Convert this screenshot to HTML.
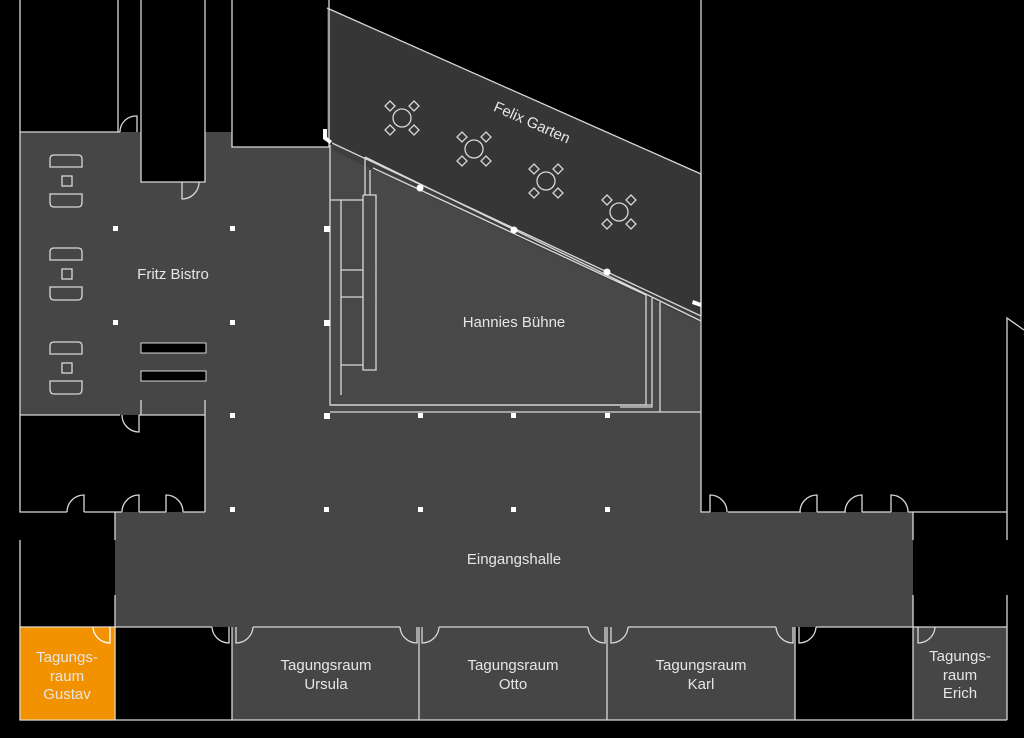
<!DOCTYPE html>
<html><head><meta charset="utf-8"><style>
html,body{margin:0;padding:0;background:#000;}
svg{display:block}
text{font-family:"Liberation Sans",sans-serif;font-size:15px;fill:#e6e6e6;text-anchor:middle}
</style></head><body>
<svg width="1024" height="738" viewBox="0 0 1024 738" xmlns="http://www.w3.org/2000/svg">
<rect width="1024" height="738" fill="#000"/>
<!-- main gray floor -->
<path d="M20 132 H141 V182 H205 V132 H232 V147 H329 V412 H701 V512 H913 V627 H115 V512 H205 V415 H20 Z" fill="#464646"/>
<!-- meeting rooms -->
<rect x="232" y="627" width="563" height="93" fill="#464646"/>
<rect x="913" y="627" width="94" height="93" fill="#464646"/>
<!-- Hannies Buhne area -->
<path d="M329 143 L701 316 V412 H329 Z" fill="#484848"/>
<!-- Felix Garten -->
<path d="M327 8 L701 174 V316 L332 143 L327 140 Z" fill="#363636"/>
<!-- band -->
<path d="M332 143 L701 316 V323 L365 166 L332 150 Z" fill="#3e3e3e"/>
<g fill="none" stroke="#d8d8d8" stroke-width="1.3">
<path d="M20 0 V132 H120 M118 132 V0 M141 0 V182 H205 V0 M232 0 V147 H329 V0"/>
<path d="M327 8 L701 174 M701 0 V316 M332 143 L701 316 M365 157 L701 321 M365 157 V168 M373 168 L646 295 V405 H330 V145"/>
<path d="M330 200 H341 V395 M341 200 H363 M341 270 H363 M341 297 H363 M341 365 H363 M363 195 V370 H376 V195 H363 M365 168 V195 M370 170 V195 M652 298 V407 H620 M330 405 H652 M660 302 V412"/>
<path d="M330 412 H701"/>
<path d="M20 132 V415 H120 M139 415 H205 V512 M141 400 V415 M205 400 V415"/>
<path d="M20 415 V512 H67 M84 512 H122 M139 512 H166 M183 512 H205"/>
<path d="M20 540 V627 M115 512 V540 M115 595 V627"/>
<path d="M701 174 V512 H710 M728 512 H801 M817 512 H846 M862 512 H891 M908 512 H1007 V540 M913 512 V540 M1007 595 V720 M1007 320 V512 L1007 318 L1024 330 M913 595 V627"/>
<path d="M20 627 H212 M253 627 H400 M439 627 H588 M628 627 H776 M816 627 H1007"/>
<path d="M20 627 V720 H1007 M115 627 V720 M232 627 V720 M419 627 V720 M607 627 V720 M795 627 V720 M913 627 V720"/>
<path d="M137 132 V116 A16 16 0 0 0 120 132"/>
<path d="M182 182 V199 A17 17 0 0 0 199 182"/>
<path d="M139 415 V432 A17 17 0 0 1 122 415"/>
<path d="M84 512 V495 A17 17 0 0 0 67 512"/>
<path d="M139 512 V495 A17 17 0 0 0 122 512"/>
<path d="M166 512 V495 A17 17 0 0 1 183 512"/>
<path d="M710 512 V495 A17 17 0 0 1 727 512"/>
<path d="M817 512 V495 A17 17 0 0 0 800 512"/>
<path d="M862 512 V495 A17 17 0 0 0 845 512"/>
<path d="M891 512 V495 A17 17 0 0 1 908 512"/>
<path d="M229 627 V643 A17 17 0 0 1 212 627"/>
<path d="M236 627 V643 A17 17 0 0 0 253 627"/>
<path d="M417 627 V643 A17 17 0 0 1 400 627"/>
<path d="M422 627 V643 A17 17 0 0 0 439 627"/>
<path d="M605 627 V643 A17 17 0 0 1 588 627"/>
<path d="M611 627 V643 A17 17 0 0 0 628 627"/>
<path d="M793 627 V643 A17 17 0 0 1 776 627"/>
<path d="M799 627 V643 A17 17 0 0 0 816 627"/>
<path d="M918 627 V643 A17 17 0 0 0 935 627"/>
<g id="b"><path d="M54 155 H78 Q82 155 82 159 V167 H50 V159 Q50 155 54 155 Z M50 194 H82 V202 Q82 207 78 207 H54 Q50 207 50 202 Z"/><rect x="62" y="176" width="10" height="10"/></g>
<use href="#b" y="93"/><use href="#b" y="187"/>
<g id="t"><circle cx="402" cy="118" r="9"/><path d="M390 101 l5 5 -5 5 -5 -5z M414 101 l5 5 -5 5 -5 -5z M390 125 l5 5 -5 5 -5 -5z M414 125 l5 5 -5 5 -5 -5z"/></g>
<use href="#t" x="72" y="31"/><use href="#t" x="144" y="63"/><use href="#t" x="217" y="94"/>
</g>
<rect x="141" y="343" width="65" height="10" fill="#000" stroke="#d8d8d8"/>
<rect x="141" y="371" width="65" height="10" fill="#000" stroke="#d8d8d8"/>
<rect x="20" y="627" width="95" height="93" fill="#f39200" stroke="#e6e6e6"/>
<path d="M110 627 V643 A17 17 0 0 1 93 627" fill="none" stroke="#fff" stroke-width="1.3"/>
<g fill="#fff">
<rect x="113" y="226" width="5" height="5"/><rect x="230" y="226" width="5" height="5"/><rect x="324" y="226" width="6" height="6"/>
<rect x="113" y="320" width="5" height="5"/><rect x="230" y="320" width="5" height="5"/><rect x="324" y="320" width="6" height="6"/>
<rect x="230" y="413" width="5" height="5"/><rect x="324" y="413" width="6" height="6"/><rect x="418" y="413" width="5" height="5"/><rect x="511" y="413" width="5" height="5"/><rect x="605" y="413" width="5" height="5"/>
<rect x="230" y="507" width="5" height="5"/><rect x="324" y="507" width="5" height="5"/><rect x="418" y="507" width="5" height="5"/><rect x="511" y="507" width="5" height="5"/><rect x="605" y="507" width="5" height="5"/>
<circle cx="420" cy="188" r="3.5"/><circle cx="514" cy="230" r="3.5"/><circle cx="607" cy="272" r="3.5"/>
<path d="M323 129 h4 v8 l5 4 -2 3 -7 -5z"/><path d="M693 300 l8 3 v4 l-9 -3z"/>
</g>
<text x="173" y="279">Fritz Bistro</text>
<text x="514" y="327">Hannies Bühne</text>
<text transform="translate(530 127) rotate(24)" x="0" y="0">Felix Garten</text>
<text x="514" y="564">Eingangshalle</text>
<text x="67" y="662">Tagungs-</text><text x="67" y="681">raum</text><text x="67" y="699">Gustav</text>
<text x="326" y="670">Tagungsraum</text><text x="326" y="689">Ursula</text>
<text x="513" y="670">Tagungsraum</text><text x="513" y="689">Otto</text>
<text x="701" y="670">Tagungsraum</text><text x="701" y="689">Karl</text>
<text x="960" y="661">Tagungs-</text><text x="960" y="680">raum</text><text x="960" y="698">Erich</text>
</svg>
</body></html>
